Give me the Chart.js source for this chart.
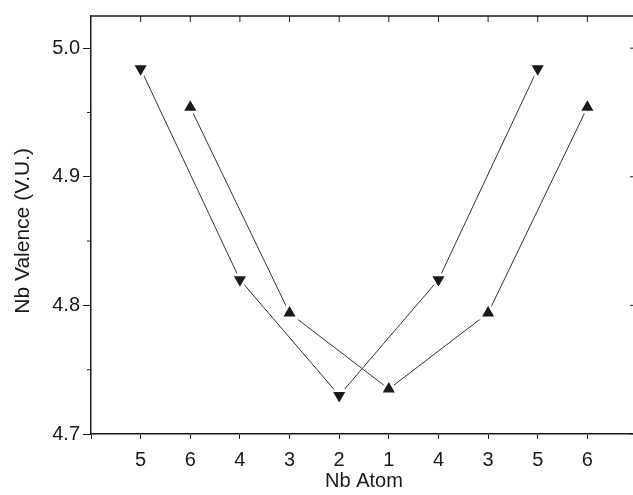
<!DOCTYPE html>
<html>
<head>
<meta charset="utf-8">
<script src="https://cdn.jsdelivr.net/npm/chart.js@4/dist/chart.umd.min.js"></script>
<style>
  html, body { margin: 0; padding: 0; background: #fff; overflow: hidden; }
  #wrap { width: 633px; height: 495px; overflow: hidden; }
</style>
</head>
<body>
<div id="wrap"><canvas id="chart" width="650" height="495"></canvas></div>
<script>
// x positions are category indexes along the Nb Atom axis
const atomLabels = ["5", "6", "4", "3", "2", "1", "4", "3", "5", "6"]

const downPos = [0, 2, 4, 6, 8]
const downValues = [4.984, 4.820, 4.730, 4.820, 4.984]

const upPos = [1, 3, 5, 7, 9]
const upValues = [4.954, 4.794, 4.735, 4.794, 4.954]

const yMajorTicks = [4.7, 4.8, 4.9, 5.0]
const yMinorTicks = [4.75, 4.85, 4.95]

const ink = "#1a1a1a"
const font = { family: "'Liberation Sans', Arial, sans-serif", size: 20 }

// top / right frame with inward ticks, plus short minor ticks on the left
const framePlugin = {
  id: "frame",
  afterDraw(chart) {
    const { ctx, chartArea: a, scales: { x, y } } = chart
    ctx.save()
    ctx.strokeStyle = ink
    ctx.lineWidth = 1.5
    ctx.beginPath()
    ctx.moveTo(a.left, a.top)
    ctx.lineTo(a.right, a.top)
    ctx.lineTo(a.right, a.bottom)
    ctx.stroke()

    ctx.lineWidth = 1
    ctx.beginPath()
    atomLabels.forEach((_, i) => {
      const px = x.getPixelForValue(i)
      ctx.moveTo(px, a.top)
      ctx.lineTo(px, a.top + 6)
    })
    yMajorTicks.forEach(v => {
      const py = y.getPixelForValue(v)
      ctx.moveTo(a.right, py)
      ctx.lineTo(a.right - 7, py)
    })
    yMinorTicks.forEach(v => {
      const py = y.getPixelForValue(v)
      ctx.moveTo(a.left, py)
      ctx.lineTo(a.left - 4, py)
    })
    ctx.stroke()
    ctx.restore()
  }
}

const seriesStyle = {
  borderColor: "#333",
  borderWidth: 1,
  pointStyle: "triangle",
  pointRadius: 10,
  pointBackgroundColor: ink,
  pointBorderColor: "#fff",
  pointBorderWidth: 3,
  tension: 0,
}

new Chart(document.getElementById("chart"), {
  type: "line",
  data: {
    datasets: [
      {
        ...seriesStyle,
        label: "down",
        data: downPos.map((p, i) => ({ x: p, y: downValues[i] })),
        rotation: 180,
      },
      {
        ...seriesStyle,
        label: "up",
        data: upPos.map((p, i) => ({ x: p, y: upValues[i] })),
      },
    ],
  },
  options: {
    responsive: false,
    animation: false,
    devicePixelRatio: 1,
    layout: { padding: { top: 16, right: 11, left: 0, bottom: 0 } },
    plugins: {
      legend: { display: false },
      tooltip: { enabled: false },
    },
    scales: {
      x: {
        type: "linear",
        min: -1,
        max: 10,
        afterFit: (s) => { s.height = 61 },
        ticks: {
          stepSize: 1,
          color: ink,
          font,
          padding: 9,
          maxRotation: 0,
          autoSkip: false,
          callback: (v) => (v >= 0 && v < atomLabels.length ? atomLabels[v] : ""),
        },
        grid: { drawOnChartArea: false, drawTicks: true, tickLength: 5, tickColor: ink },
        border: { color: ink, width: 1.5 },
        title: { display: true, text: "Nb Atom", color: ink, font: { ...font, lineHeight: 1 }, padding: { top: 0, bottom: 4 } },
      },
      y: {
        min: 4.7,
        max: 5.025,
        afterFit: (s) => { s.width = 91 },
        afterBuildTicks: (s) => { s.ticks = yMajorTicks.map(v => ({ value: v })) },
        ticks: {
          color: ink,
          font,
          padding: 3,
          callback: (v) => v.toFixed(1),
        },
        grid: { drawOnChartArea: false, drawTicks: true, tickLength: 8, tickColor: ink },
        border: { color: ink, width: 1.5 },
        title: { display: true, text: "Nb Valence (V.U.)  ", color: ink, font: { ...font, size: 21, lineHeight: 1 }, padding: { top: 13, bottom: 0 } },
      },
    },
  },
  plugins: [framePlugin],
})
</script>
</body>
</html>
